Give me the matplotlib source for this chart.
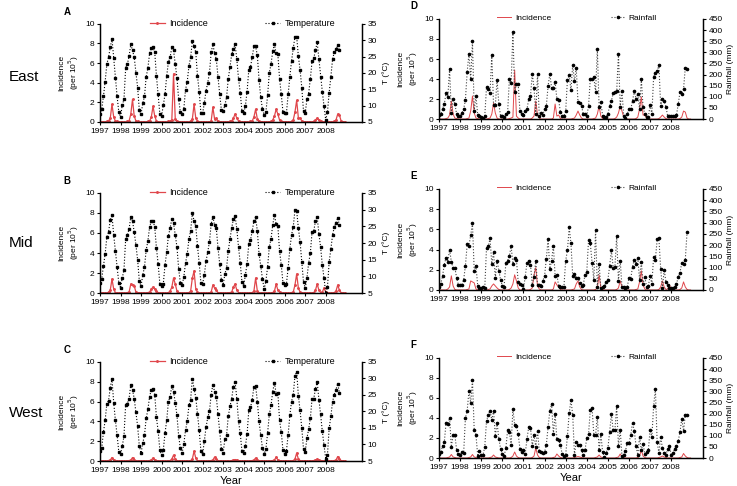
#!/usr/bin/env python
# -*- coding: utf-8 -*-

#
# Monthly incidence vs. temperature / rainfall, 1997-2008, for three regions.
#

import numpy as np
import matplotlib
matplotlib.use('Agg')
import matplotlib.pyplot as plt

plt.rcParams['font.family'] = ['Liberation Sans', 'DejaVu Sans']

years = [str(y) for y in range(1997, 2009)]
regions = ['East', 'Mid', 'West']

# Incidence (per 10^5), one row per year, Jan..Dec
inc_east = [
    0, 0, 0, 0, 0.05, 0.1, 0.4, 1.8, 0.5, 0.1, 0.05, 0,
    0, 0, 0, 0, 0.05, 0.1, 0.8, 2.3, 0.6, 0.1, 0.05, 0,
    0, 0, 0, 0, 0.05, 0.1, 0.5, 1.6, 0.6, 0.1, 0, 0,
    0, 0, 0, 0, 0.05, 0.1, 0.2, 4.9, 0.3, 0.1, 0, 0,
    0, 0, 0, 0, 0, 0.1, 0.3, 1.8, 0.4, 0.1, 0, 0,
    0, 0, 0, 0, 0, 0.1, 1.5, 0.3, 0.4, 0.05, 0, 0,
    0, 0, 0, 0, 0.05, 0.1, 0.4, 0.8, 0.4, 0.1, 0, 0,
    0, 0, 0, 0, 0.05, 0.1, 0.5, 1.3, 0.3, 0.05, 0, 0,
    0, 0, 0, 0, 0.05, 0.2, 0.6, 1.3, 0.8, 0.2, 0.05, 0,
    0, 0, 0, 0, 0.05, 0.2, 1.0, 2.2, 0.4, 0.4, 0.1, 0,
    0, 0, 0, 0, 0, 0.05, 0.2, 0.4, 0.2, 0.05, 0, 0,
    0, 0, 0, 0, 0, 0.05, 0.2, 0.8, 0.7, 0.1, 0, 0,
]
inc_mid = [
    0, 0, 0, 0, 0, 0.1, 0.3, 1.4, 0.4, 0.05, 0, 0,
    0, 0, 0, 0, 0.05, 0.1, 0.9, 0.8, 0.7, 0.1, 0, 0,
    0, 0, 0, 0, 0.05, 0.1, 0.4, 0.6, 0.4, 0.2, 0.05, 0,
    0, 0, 0, 0, 0.05, 0.2, 0.6, 1.5, 0.9, 0.2, 0, 0,
    0, 0, 0, 0, 0.05, 0.2, 1.5, 2.2, 0.4, 0.1, 0, 0,
    0, 0, 0, 0, 0, 0.1, 0.8, 0.5, 0.3, 0.05, 0, 0,
    0, 0, 0, 0, 0.05, 0.1, 0.6, 0.9, 0.3, 0.05, 0, 0,
    0, 0, 0, 0, 0, 0.05, 0.2, 1.5, 0.2, 0.05, 0, 0,
    0, 0, 0, 0, 0, 0.05, 0.2, 0.9, 0.3, 0.1, 0, 0,
    0, 0, 0, 0, 0.05, 0.1, 0.8, 1.9, 0.5, 0.1, 0, 0,
    0, 0, 0, 0, 0, 0.05, 0.3, 0.9, 0.3, 0.05, 0.1, 0.5,
    0.1, 0, 0, 0, 0, 0.05, 0.2, 0.8, 0.3, 0.05, 0, 0,
]
inc_west = [
    0, 0, 0, 0, 0, 0.05, 0.1, 0.35, 0.1, 0.05, 0, 0,
    0, 0, 0, 0, 0, 0.05, 0.1, 0.35, 0.1, 0.05, 0, 0,
    0, 0, 0, 0, 0, 0.05, 0.1, 0.3, 0.1, 0.05, 0, 0,
    0, 0, 0, 0, 0, 0.05, 0.2, 0.6, 0.2, 0.05, 0, 0,
    0, 0, 0, 0, 0, 0.05, 0.2, 1.0, 0.3, 0.05, 0, 0,
    0, 0, 0, 0, 0, 0.05, 0.1, 0.4, 0.2, 0.05, 0, 0,
    0, 0, 0, 0, 0, 0.05, 0.1, 0.15, 0.1, 0.05, 0, 0,
    0, 0, 0, 0, 0, 0.05, 0.1, 0.3, 0.1, 0.05, 0, 0,
    0, 0, 0, 0, 0, 0.05, 0.1, 0.4, 0.1, 0.05, 0, 0,
    0, 0, 0, 0, 0, 0.05, 0.2, 0.8, 0.2, 0.05, 0, 0,
    0, 0, 0, 0, 0, 0.05, 0.1, 0.2, 0.1, 0.05, 0, 0,
    0, 0, 0, 0, 0, 0.05, 0.1, 0.45, 0.2, 0.05, 0, 0,
]

# Temperature (°C)
temp_east = [
    7.4, 8.9, 12.8, 17.3, 22.7, 24.8, 27.8, 30.5, 24.5, 18.5, 12.8, 8.0,
    6.5, 10.1, 11.9, 21.5, 22.7, 25.1, 28.7, 26.9, 24.8, 20.0, 15.5, 8.6,
    7.4, 10.7, 12.8, 18.8, 21.5, 26.0, 27.5, 27.8, 26.3, 19.1, 13.4, 7.4,
    6.8, 10.1, 13.4, 19.1, 23.3, 24.8, 27.8, 26.9, 22.7, 18.5, 11.9, 8.0,
    7.4, 8.9, 14.9, 17.3, 22.1, 24.8, 29.6, 28.1, 26.3, 19.1, 14.3, 7.7,
    7.7, 10.7, 14.6, 17.0, 20.0, 26.3, 28.7, 26.0, 24.2, 18.8, 13.4, 8.6,
    8.3, 10.1, 12.5, 18.2, 21.8, 25.7, 27.2, 28.7, 24.2, 18.2, 14.0, 8.3,
    7.7, 9.8, 14.3, 20.9, 21.8, 24.8, 28.1, 28.1, 25.4, 17.9, 12.5, 8.9,
    7.1, 8.0, 13.1, 20.0, 22.7, 26.6, 28.7, 26.0, 25.7, 18.2, 13.4, 8.0,
    7.7, 7.7, 13.4, 18.8, 23.6, 27.5, 31.1, 31.1, 25.1, 20.9, 15.5, 8.3,
    7.7, 11.9, 13.7, 18.2, 23.6, 24.5, 26.9, 29.3, 24.2, 18.8, 14.3, 9.8,
    5.6, 8.0, 14.0, 18.8, 24.2, 26.3, 27.2, 28.4, 26.9,
]
temp_mid = [
    8.0, 9.2, 13.1, 16.7, 21.8, 23.3, 26.9, 28.4, 22.4, 17.6, 12.8, 8.0,
    6.5, 9.5, 11.9, 21.2, 22.4, 24.2, 27.8, 26.6, 23.3, 19.4, 14.9, 8.6,
    7.1, 10.4, 12.8, 17.9, 20.6, 24.8, 26.6, 26.6, 24.8, 18.5, 13.7, 7.7,
    7.1, 7.7, 13.4, 17.3, 22.1, 24.5, 27.2, 26.0, 22.4, 18.8, 12.2, 8.0,
    7.4, 9.8, 14.0, 16.7, 21.2, 23.6, 29.0, 26.6, 25.1, 19.1, 14.0, 8.0,
    7.7, 10.4, 14.6, 17.3, 20.3, 25.7, 27.8, 25.4, 24.5, 18.5, 13.7, 8.9,
    7.4, 10.7, 12.5, 17.6, 21.2, 24.5, 27.2, 28.1, 24.2, 18.8, 14.0, 8.3,
    7.1, 10.4, 13.7, 19.7, 20.9, 23.6, 26.6, 27.8, 23.6, 16.7, 13.1, 9.2,
    6.2, 8.6, 12.8, 18.8, 21.2, 25.4, 28.4, 25.7, 25.1, 17.6, 13.4, 8.0,
    7.4, 7.7, 12.5, 18.2, 22.4, 24.8, 29.9, 29.6, 24.5, 20.3, 14.3, 8.3,
    6.5, 9.5, 14.0, 17.0, 23.3, 23.6, 26.6, 27.8, 22.7, 18.8, 13.4, 9.5,
    5.0, 6.8, 14.3, 18.2, 22.4, 24.8, 26.0, 27.5, 25.4,
]
temp_west = [
    8.0, 8.9, 13.7, 17.3, 22.4, 23.3, 27.2, 29.9, 22.7, 17.3, 12.8, 7.7,
    7.1, 9.5, 12.5, 22.1, 22.4, 23.9, 28.1, 26.6, 23.9, 19.7, 15.5, 9.5,
    7.4, 10.4, 12.8, 17.9, 20.6, 24.5, 26.6, 26.9, 25.1, 18.2, 14.0, 8.3,
    6.8, 8.3, 13.4, 17.3, 23.0, 24.5, 27.8, 26.0, 22.7, 18.8, 12.5, 8.9,
    7.4, 10.1, 14.3, 17.0, 21.8, 23.6, 29.9, 26.9, 24.2, 19.1, 14.3, 8.0,
    7.1, 11.0, 15.2, 18.2, 20.0, 25.1, 28.1, 26.0, 24.5, 19.1, 14.0, 8.6,
    7.4, 11.6, 12.8, 18.5, 21.5, 23.9, 27.5, 29.0, 23.9, 17.0, 13.4, 8.0,
    7.4, 9.5, 13.1, 20.3, 21.2, 23.6, 27.5, 27.8, 23.0, 17.0, 12.8, 8.9,
    7.1, 8.6, 13.4, 19.1, 21.8, 26.0, 28.7, 25.4, 25.7, 17.3, 13.7, 8.3,
    7.1, 8.0, 12.8, 18.8, 23.0, 25.1, 30.8, 32.0, 24.8, 20.3, 14.9, 8.6,
    7.7, 11.9, 14.6, 17.9, 23.9, 23.9, 26.9, 29.0, 23.6, 19.1, 14.0, 9.8,
    5.6, 6.8, 14.9, 18.5, 23.0, 25.1, 26.6, 28.4, 25.7,
]

# Rainfall (mm)
rain_east = [
    18, 23, 45, 68, 117, 99, 225, 27, 90, 68, 23, 14,
    14, 27, 45, 86, 212, 293, 180, 351, 36, 104, 18, 14,
    9, 5, 14, 144, 135, 117, 288, 63, 63, 176, 68, 14,
    14, 9, 23, 32, 180, 162, 392, 122, 158, 158, 36, 23,
    18, 36, 45, 90, 104, 203, 140, 23, 203, 14, 27, 18,
    45, 59, 149, 203, 140, 140, 167, 90, 86, 32, 14, 14,
    36, 176, 198, 131, 243, 171, 230, 77, 72, 59, 23, 23,
    14, 59, 180, 180, 189, 122, 315, 54, 77, 14, 9, 9,
    23, 59, 81, 117, 122, 126, 293, 54, 126, 14, 5, 23,
    45, 45, 81, 126, 90, 113, 45, 180, 54, 23, 9, 9,
    63, 23, 189, 207, 216, 243, 59, 90, 81, 54, 14, 14,
    14, 14, 14, 18, 68, 122, 113, 135, 230, 225,
]
rain_mid = [
    14, 27, 63, 113, 144, 126, 180, 126, 99, 99, 54, 23,
    23, 23, 45, 108, 203, 198, 243, 297, 86, 108, 18, 9,
    9, 14, 9, 189, 194, 230, 117, 167, 54, 131, 86, 45,
    18, 14, 122, 131, 153, 194, 117, 144, 135, 36, 27, 23,
    5, 59, 122, 131, 113, 23, 59, 131, 23, 23, 18, 41,
    63, 140, 225, 95, 131, 198, 63, 68, 18, 14, 14, 14,
    131, 176, 279, 207, 63, 72, 54, 54, 32, 18, 23, 68,
    81, 221, 207, 122, 45, 266, 14, 117, 9, 14, 18, 36,
    45, 108, 176, 99, 104, 239, 41, 131, 14, 14, 9, 14,
    54, 50, 104, 135, 117, 144, 45, 126, 27, 59, 14, 18,
    63, 27, 149, 135, 225, 230, 95, 9, 90, 36, 23, 9,
    9, 9, 14, 27, 59, 77, 122, 117, 135, 257,
]
rain_west = [
    18, 27, 54, 72, 158, 153, 180, 50, 104, 104, 36, 18,
    14, 27, 23, 180, 212, 302, 248, 351, 126, 104, 9, 32,
    14, 14, 50, 167, 194, 212, 171, 212, 99, 158, 86, 41,
    18, 9, 45, 126, 117, 59, 221, 149, 144, 108, 41, 27,
    36, 18, 86, 140, 135, 54, 104, 50, 122, 32, 27, 23,
    27, 59, 140, 212, 243, 108, 198, 86, 81, 59, 18, 9,
    14, 99, 203, 261, 194, 14, 72, 59, 59, 36, 14, 36,
    90, 108, 216, 225, 104, 104, 185, 36, 108, 27, 5, 23,
    45, 117, 198, 126, 126, 234, 54, 126, 9, 14, 32, 68,
    68, 104, 158, 122, 54, 14, 95, 36, 63, 18, 27, 36,
    126, 95, 234, 311, 72, 23, 95, 45, 23, 14, 41, 54,
    14, 23, 41, 54, 77, 117, 176, 122, 194, 194,
]

RED = '#e0474c'
FS = 6


def style_axes(ax, ax2, xmax):
    ax.set_xlim(0, xmax)
    ax.set_ylim(0, 10)
    ax.set_yticks(range(0, 11, 2))
    ax.set_xticks(range(0, 144, 12))
    ax.set_xticklabels(years)
    for a in (ax, ax2):
        a.spines['top'].set_visible(False)
        a.tick_params(labelsize=FS, length=2.5, width=0.8, pad=1.5)
        for s in a.spines.values():
            s.set_linewidth(0.9)
    ax.set_ylabel('Incidence\n(per 10$^5$)', fontsize=FS, labelpad=3, linespacing=1.1)


# Две отдельные записи легенды над осями (как в оригинале)
def two_legends(ax2, handles, labels, xs, y, fs):
    leg = None
    for h, lab, x in zip(handles, labels, xs):
        if leg is not None:
            ax2.add_artist(leg)
        leg = ax2.legend([h], [lab], loc='lower left', bbox_to_anchor=(x, y),
                         frameon=False, fontsize=fs, handlelength=1.7,
                         borderpad=0, borderaxespad=0, handletextpad=0.5)


# Левый столбец: заболеваемость и температура
def temp_panel(fig, pos, inc, temp, letter):
    ax = fig.add_axes(pos)
    ax2 = ax.twinx()
    h1, = ax.plot(np.arange(len(inc)), inc, color=RED, lw=0.9, marker='.', ms=2.2)
    h2, = ax2.plot(np.arange(len(temp)), temp, color='black', ls=':', lw=0.8,
                   marker='s', ms=1.8)
    ax2.set_ylim(5, 35)
    ax2.set_yticks(range(5, 36, 5))
    ax2.set_ylabel('T (\u00b0C)', fontsize=FS, labelpad=4)
    style_axes(ax, ax2, 153)
    two_legends(ax2, [h1, h2], ['Incidence', 'Temperature'], [0.19, 0.63], 0.955, FS + 0.5)
    ax.text(-0.14, 1.07, letter, transform=ax.transAxes, fontsize=FS + 1,
            fontweight='bold', va='bottom')
    return ax


# Правый столбец: заболеваемость и осадки
def rain_panel(fig, pos, inc, rain, letter):
    ax = fig.add_axes(pos)
    ax2 = ax.twinx()
    h1, = ax.plot(np.arange(len(inc)), inc, color=RED, lw=0.7)
    h2, = ax2.plot(np.arange(len(rain)), rain, color='#444444', ls=':', lw=0.8,
                   marker='o', ms=1.6, mfc='black', mec='black')
    ax2.set_ylim(0, 450)
    ax2.set_yticks(range(0, 451, 50))
    ax2.set_ylabel('Rainfall (mm)', fontsize=FS, labelpad=3)
    style_axes(ax, ax2, 150)
    two_legends(ax2, [h1, h2], ['Incidence', 'Rainfall'], [0.22, 0.65], 0.97, FS)
    ax.text(-0.11, 1.08, letter, transform=ax.transAxes, fontsize=FS + 1,
            fontweight='bold', va='bottom')
    return ax


def main():
    fig = plt.figure(figsize=(7.37, 4.86), dpi=100)

    left = [(0.1357, 0.749, 0.355, 0.202),
            (0.1357, 0.397, 0.355, 0.206),
            (0.1357, 0.0514, 0.355, 0.204)]
    right = [(0.5957, 0.755, 0.358, 0.206),
             (0.5957, 0.4033, 0.358, 0.208),
             (0.5957, 0.0576, 0.358, 0.206)]

    incs = [inc_east, inc_mid, inc_west]
    temps = [temp_east, temp_mid, temp_west]
    rains = [rain_east, rain_mid, rain_west]

    for i in range(3):
        axl = temp_panel(fig, left[i], incs[i], temps[i], 'ABC'[i])
        axr = rain_panel(fig, right[i], incs[i], rains[i], 'DEF'[i])
        if i == 2:
            axl.set_xlabel('Year', fontsize=FS + 2, labelpad=2)
            axr.set_xlabel('Year', fontsize=FS + 2, labelpad=2)

    # Подписи регионов слева
    for name, y in zip(regions, [77, 243, 413]):
        fig.text(0.012, 1 - y / 486.0, name, fontsize=11, va='center', ha='left')

    fig.savefig('out.png', dpi=100)


if __name__ == '__main__':
    main()
